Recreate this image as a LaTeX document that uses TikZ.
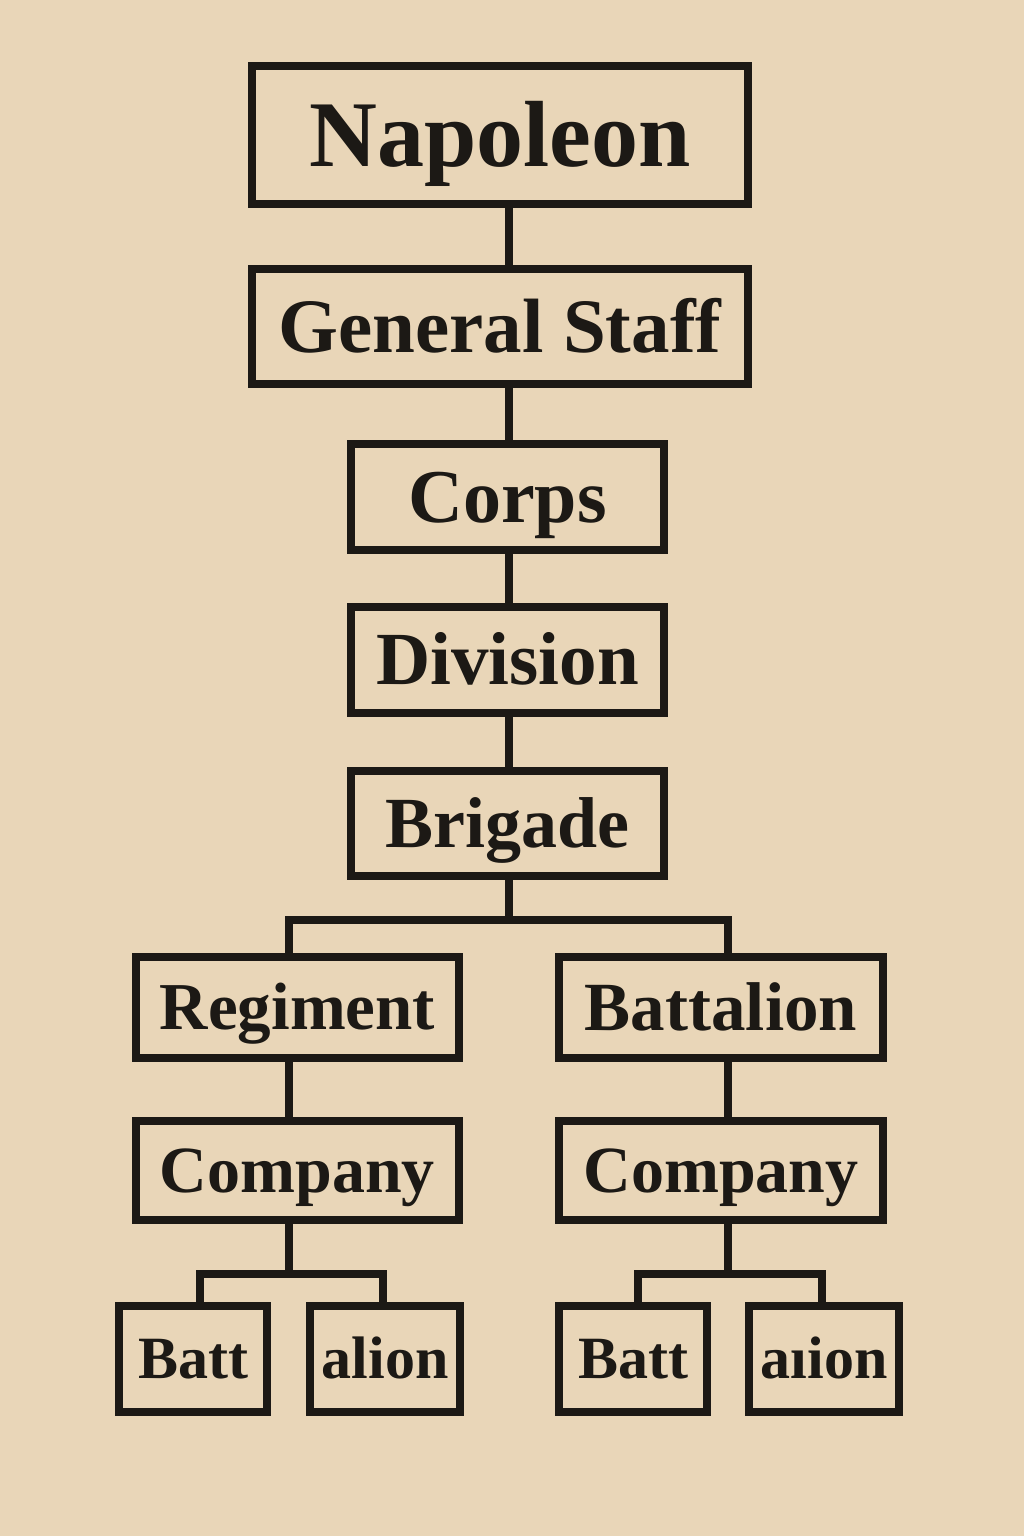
\documentclass[tikz,border=0pt]{standalone}
\usepackage{fontspec}
\setmainfont{Liberation Serif}
\definecolor{paper}{RGB}{233,214,184}
\definecolor{ink}{RGB}{28,25,21}
\begin{document}
\begin{tikzpicture}[x=1pt,y=-1pt,
  box/.style={draw=ink,line width=8pt,inner sep=0pt,outer sep=0pt,rectangle,text=ink,align=center,text depth=0pt},
  link/.style={draw=ink,line width=8pt,line cap=rect}]
\fill[paper] (0,0) rectangle (1024,1536);
\useasboundingbox (0,0) rectangle (1024,1536);
% boxes
\node[box,minimum width=496pt,minimum height=138pt,text height=62pt,font=\bfseries\fontsize{94}{100}\selectfont] (nap) at (500,135) {Napoleon};
\node[box,minimum width=496pt,minimum height=115pt,text height=51pt,font=\bfseries\fontsize{77}{82}\selectfont] (gs) at (500,326.5) {General Staff};
\node[box,minimum width=313pt,minimum height=106pt,text height=50pt,font=\bfseries\fontsize{76}{80}\selectfont] (corps) at (507.5,497) {Corps};
\node[box,minimum width=313pt,minimum height=106pt,text height=49.5pt,font=\bfseries\fontsize{75}{80}\selectfont] (div) at (507.5,660) {Division};
\node[box,minimum width=313pt,minimum height=105pt,text height=47.5pt,font=\bfseries\fontsize{72}{78}\selectfont] (brig) at (507.5,823.5) {Brigade};
\node[box,minimum width=323pt,minimum height=101pt,text height=44pt,font=\bfseries\fontsize{67}{72}\selectfont] (reg) at (297.5,1007.5) {Regiment};
\node[box,minimum width=324pt,minimum height=101pt,text height=45.5pt,font=\bfseries\fontsize{69}{72}\selectfont] (bat) at (721,1007.5) {Battalion};
\node[box,minimum width=323pt,minimum height=99pt,text height=43.5pt,font=\bfseries\fontsize{66}{70}\selectfont] (compl) at (297.5,1170.5) {Company};
\node[box,minimum width=324pt,minimum height=99pt,text height=43.5pt,font=\bfseries\fontsize{66}{70}\selectfont] (compr) at (721,1170.5) {Company};
\node[box,minimum width=148pt,minimum height=106pt,text height=39.6pt,font=\bfseries\fontsize{60}{64}\selectfont] (battl) at (193,1359) {Batt};
\node[box,minimum width=150pt,minimum height=106pt,text height=39.6pt,font=\bfseries\fontsize{60}{64}\selectfont] (alion) at (385,1359) {alion};
\node[box,minimum width=148pt,minimum height=106pt,text height=39.6pt,font=\bfseries\fontsize{60}{64}\selectfont] (battr) at (633,1359) {Batt};
\node[box,minimum width=150pt,minimum height=106pt,text height=39.6pt,font=\bfseries\fontsize{60}{64}\selectfont] (aiion) at (824,1359) {aıion};
% connector anchors
\coordinate (spine) at (509,0);
\coordinate (fa) at (509,920);
\coordinate (fl) at (289,920);
\coordinate (fr) at (728,920);
\coordinate (gl) at (289,1274);
\coordinate (gll) at (200,1274);
\coordinate (glr) at (383,1274);
\coordinate (gr) at (728,1274);
\coordinate (grl) at (638,1274);
\coordinate (grr) at (822,1274);
% connectors
\draw[link] (nap.south -| spine) -- (gs.north -| spine);
\draw[link] (gs.south -| spine) -- (corps.north -| spine);
\draw[link] (corps.south -| spine) -- (div.north -| spine);
\draw[link] (div.south -| spine) -- (brig.north -| spine);
\draw[link] (brig.south -| fa) -- (fa);
\draw[link,line cap=butt] (reg.north -| fl) -- (fl) -- (fr) -- (bat.north -| fr);
\draw[link] (reg.south -| fl) -- (compl.north -| fl);
\draw[link] (bat.south -| fr) -- (compr.north -| fr);
\draw[link] (compl.south -| gl) -- (gl);
\draw[link,line cap=butt] (battl.north -| gll) -- (gll) -- (glr) -- (alion.north -| glr);
\draw[link] (compr.south -| gr) -- (gr);
\draw[link,line cap=butt] (battr.north -| grl) -- (grl) -- (grr) -- (aiion.north -| grr);
\end{tikzpicture}
\end{document}
